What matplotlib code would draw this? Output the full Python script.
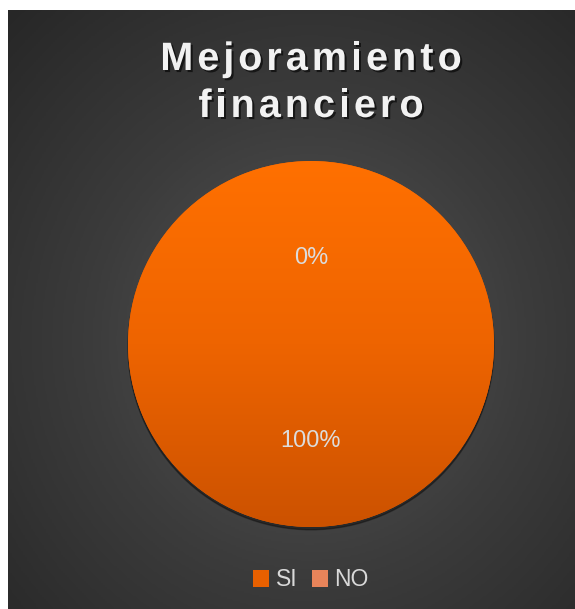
import matplotlib
matplotlib.use('Agg')
import matplotlib.pyplot as plt
import matplotlib.patheffects as pe
from matplotlib.colors import LinearSegmentedColormap
import numpy as np

plt.rcParams['font.family'] = ['Liberation Sans', 'DejaVu Sans']

# Data
categories = ['SI', 'NO']
values = [100, 0]
colors = ['#E86000', '#E8845A']
title_lines = ['Mejoramiento', 'financiero']

W, H = 575, 609
fig = plt.figure(figsize=(W / 100, H / 100), dpi=100)
fig.patch.set_facecolor('white')

# Dark radial gradient background panel
bg_ax = fig.add_axes([8 / W, 0, (W - 8) / W, (H - 10) / H])
bg_ax.set_axis_off()
ny, nx = 300, 300
yy, xx = np.mgrid[0:ny, 0:nx]
cx, cy = nx * 0.53, ny * 0.55
r = np.sqrt(((xx - cx) / nx) ** 2 + ((yy - cy) / ny) ** 2)
r = r / r.max()
bg_cmap = LinearSegmentedColormap.from_list('bg', ['#575757', '#3c3c3c', '#272727'])
bg_ax.imshow(r, cmap=bg_cmap, aspect='auto', extent=[0, 1, 0, 1], origin='upper')
bg_ax.set_xlim(0, 1)
bg_ax.set_ylim(0, 1)

# Pie axes: center (311, 344), radius 183 px
cxp, cyp, rp = 311, 344, 183
ax = fig.add_axes([(cxp - rp * 1.02) / W, (H - cyp - rp * 1.02) / H,
                   2 * rp * 1.02 / W, 2 * rp * 1.02 / H])
ax.set_axis_off()

# soft shadow under the pie
shadow = plt.Circle((0.0, -0.015), 1.0, color='black', alpha=0.35, zorder=0)
ax.add_patch(shadow)

wedges, texts, autotexts = ax.pie(
    values, colors=colors, startangle=90, counterclock=False,
    autopct='%1.0f%%', pctdistance=0.5, radius=1.0,
    textprops=dict(color='#DCDCDC', fontsize=17))
for w in wedges:
    w.set_zorder(1)
for t in autotexts:
    x, y = t.get_position()
    t.set_position((x, y - 0.03))
    t.set_zorder(5)

# vertical gradient inside the SI wedge
grad = np.linspace(0, 1, 256).reshape(-1, 1)
pie_cmap = LinearSegmentedColormap.from_list('pie', ['#FF7000', '#EE6400', '#CC5200'])
im = ax.imshow(grad, cmap=pie_cmap, extent=[-1, 1, -1, 1], origin='upper',
               aspect='auto', zorder=2)
im.set_clip_path(wedges[0])
ax.set_xlim(-1.02, 1.02)
ax.set_ylim(-1.02, 1.02)
ax.set_aspect('equal')

# Title with letter spacing, drawn char by char
fig.canvas.draw()
renderer = fig.canvas.get_renderer()
fs = 28.5
spacing = 4.0
baselines = [70, 117]
shadow_fx = [pe.SimplePatchShadow(offset=(1.5, -1.5), shadow_rgbFace='black', alpha=0.6),
             pe.Normal()]


def text_width(s):
    t = fig.text(0, 0, s, fontsize=fs, fontweight='bold')
    w = t.get_window_extent(renderer).width
    t.remove()
    return w


for line, base in zip(title_lines, baselines):
    total = text_width(line) + spacing * (len(line) - 1)
    x0 = cxp - total / 2
    for i, ch in enumerate(line):
        x = x0 + (text_width(line[:i]) if i else 0) + spacing * i
        fig.text(x / W, 1 - base / H, ch, fontsize=fs, fontweight='bold',
                 color='#F2F2F2', ha='left', va='baseline', path_effects=shadow_fx)

# Legend
leg = fig.legend(wedges, categories, loc='center', bbox_to_anchor=(cxp / W, 1 - 580 / H),
                 ncol=2, frameon=False, fontsize=16.5, handlelength=0.7, handleheight=0.7,
                 handletextpad=0.3, columnspacing=0.6, labelcolor='#D9D9D9')

fig.savefig('out.png', dpi=100, facecolor=fig.get_facecolor())
